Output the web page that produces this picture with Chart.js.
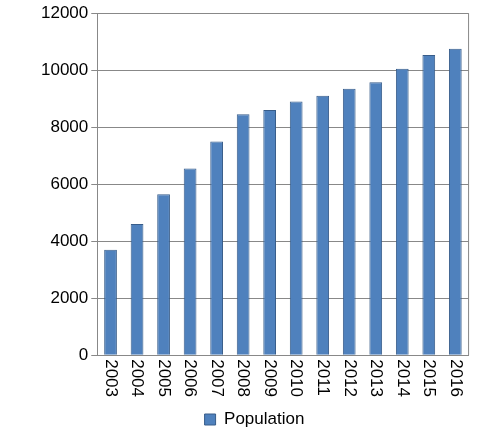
<!DOCTYPE html>
<html><head><script src="https://cdn.jsdelivr.net/npm/chart.js"></script>
<style>body{margin:0;background:#fff}#w{width:479px;height:438px}</style></head>
<body><div id="w"><canvas id="c"></canvas></div>
<script>
const categories=["2003","2004","2005","2006","2007","2008","2009","2010","2011","2012","2013","2014","2015","2016"];
const population=[3700,4600,5650,6550,7500,8450,8600,8900,9100,9350,9580,10050,10530,10750];
const yTicks=[0,2000,4000,6000,8000,10000,12000];
new Chart(document.getElementById('c'),{type:'bar',
data:{labels:categories,datasets:[{label:'Population',data:population,backgroundColor:'#4f81bd',borderColor:'#385d8a',borderWidth:1,categoryPercentage:0.8,barPercentage:0.6}]},
options:{responsive:true,maintainAspectRatio:false,animation:false,
layout:{padding:{left:38,right:8,top:7,bottom:0}},
plugins:{legend:{position:'bottom',labels:{boxWidth:11,boxHeight:11,color:'#000',font:{family:'Liberation Sans',size:17},padding:4}},tooltip:{enabled:false}},
scales:{x:{grid:{display:false},border:{color:'#888'},ticks:{maxRotation:90,minRotation:90,color:'rgba(0,0,0,0)',font:{family:'Liberation Sans',size:17}}},
y:{min:0,max:12000,afterBuildTicks:a=>{a.ticks=yTicks.map(v=>({value:v}))},grid:{color:'#888',tickLength:6},border:{color:'#888'},ticks:{color:'#000',callback:v=>String(v),font:{family:'Liberation Sans',size:17}}}}},
plugins:[{id:'frame',afterDraw(ch){const a=ch.chartArea,x=ch.ctx,sx=ch.scales.x;x.save();x.strokeStyle='#888';x.lineWidth=1;x.beginPath();x.moveTo(a.right,a.top);x.lineTo(a.right,a.bottom);x.stroke();
x.fillStyle='#000';x.font='17px "Liberation Sans"';x.textAlign='left';x.textBaseline='middle';
sx.ticks.forEach((t,i)=>{const px=sx.getPixelForTick(i);x.save();x.translate(px,a.bottom+4);x.rotate(Math.PI/2);x.fillText(sx.getLabelForValue(t.value),0,0);x.restore();});
x.restore();}}]
});
</script></body></html>
